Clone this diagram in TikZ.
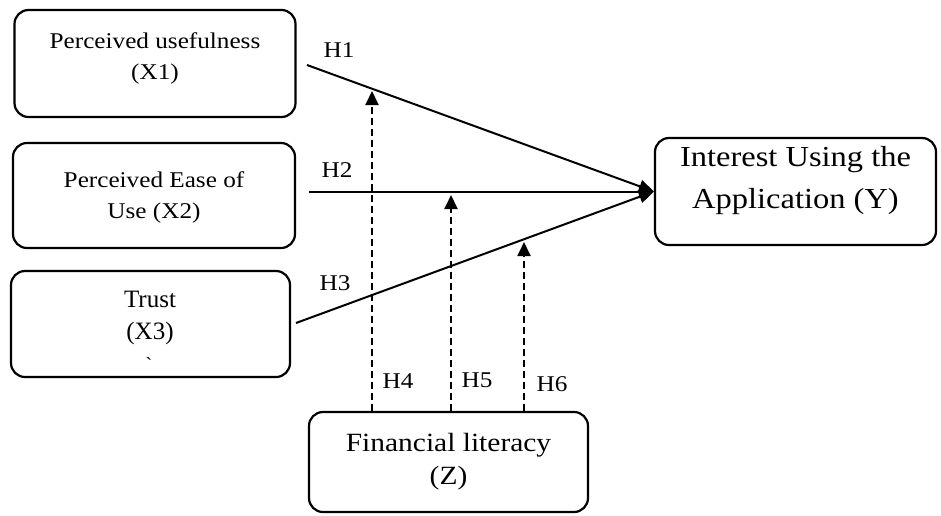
\documentclass[tikz,border=0pt]{standalone}
\usepackage{fontspec}
\setmainfont{Liberation Serif}
\newfontfamily\gar[FakeStretch=1.12]{Liberation Serif}
\usetikzlibrary{arrows.meta}
\begin{document}
\begin{tikzpicture}[x=1pt,y=-1pt,
  box/.style={draw, line width=2.2pt, rounded corners=14pt, inner sep=0pt},
  txt/.style={align=center, inner sep=0pt, text=black},
  hlab/.style={inner sep=0pt, font=\gar\fontsize{22.5}{26}\selectfont},
  hyp/.style={line width=2pt, -{Triangle[length=15pt,width=13pt]}},
  moder/.style={line width=1.9pt, dash pattern=on 7pt off 4pt, -{Triangle[length=14pt,width=13pt]}}]
\useasboundingbox (0,0) rectangle (941,515);

% boxes
\node[box, minimum width=281pt, minimum height=107pt] (X1) at (155,63.5) {};
\node[box, minimum width=282pt, minimum height=105pt] (X2) at (154,195.5) {};
\node[box, minimum width=279pt, minimum height=106pt] (X3) at (150.5,324) {};
\node[box, minimum width=281pt, minimum height=107pt] (Y) at (795.5,191.5) {};
\node[box, minimum width=279pt, minimum height=100pt] (Z) at (448.5,462) {};

% texts
\node[txt, font=\gar\fontsize{22.5}{31}\selectfont] (X1t) at (155,58) {Perceived usefulness\\(X1)};
\node[txt, font=\gar\fontsize{22.5}{31}\selectfont] (X2t) at (154,197) {Perceived Ease of\\Use (X2)};
\node[txt, font=\fontsize{25}{32}\selectfont] (X3t) at (150,318) {Trust\\(X3)};
\node[txt, font=\fontsize{20}{24}\selectfont] (tick) at (149,365) {\textasciigrave};
\node[txt, font=\gar\fontsize{29}{42}\selectfont] (Yt) at (795.5,181) {Interest Using the\\Application (Y)};
\node[txt, font=\gar\fontsize{26.3}{33}\selectfont] (Zt) at (448.5,461.5) {Financial literacy\\(Z)};

% direct hypotheses
\coordinate (s1) at (307,65);
\coordinate (s2) at (309,191.5);
\coordinate (s3) at (296,323);
\draw[hyp] (s1) -- (Y.west);
\draw[hyp] (s2) -- (Y.west);
\draw[hyp] (s3) -- (Y.west);

% moderation
\coordinate (t4) at (372,91);
\coordinate (t5) at (451,195);
\coordinate (t6) at (524,242);
\draw[moder] (Z.north -| t4) -- (t4);
\draw[moder] (Z.north -| t5) -- (t5);
\draw[moder] (Z.north -| t6) -- (t6);

% labels
\node[hlab] (h1) at (339,50) {H1};
\node[hlab] (h2) at (337,170) {H2};
\node[hlab] (h3) at (335,283) {H3};
\node[hlab] (h4) at (398,381) {H4};
\node[hlab] (h5) at (477,380) {H5};
\node[hlab] (h6) at (552,384) {H6};
\end{tikzpicture}
\end{document}
